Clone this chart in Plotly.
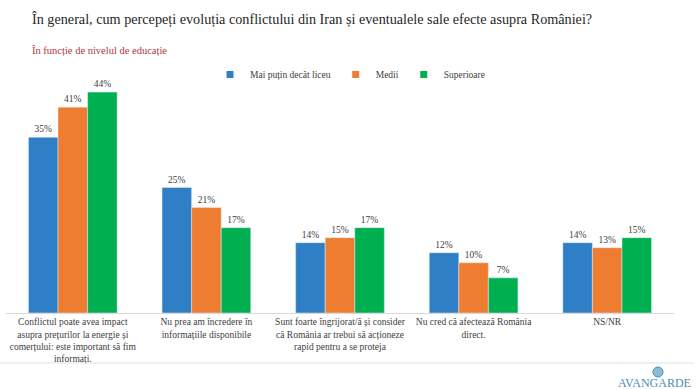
import plotly.graph_objects as go

categories = [
    "Conflictul poate avea impact<br>asupra prețurilor la energie și<br>comerțului: este important să fim<br>informați.",
    "Nu prea am încredere în<br>informațiile disponibile",
    "Sunt foarte îngrijorat/ă și consider<br>că România ar trebui să acționeze<br>rapid pentru a se proteja",
    "Nu cred că afectează România<br>direct.",
    "NS/NR",
]
series_names = ["Mai puțin decât liceu", "Medii", "Superioare"]
mai_putin = [35, 25, 14, 12, 14]
medii = [41, 21, 15, 10, 13]
superioare = [44, 17, 17, 7, 15]
colors = ["#2E7FC6", "#EE7D31", "#00B050"]

W, H = 700, 389
L, R, T, B = 6, 26, 60, 76
pw, ph = W - L - R, H - T - B
ymax = ph / 5.02  # about 5 px per percentage point

def px_x(x):
    return (x - L) / pw

def px_y(y):
    return (H - B - y) / ph

serif = "Liberation Serif, Times New Roman, serif"

fig = go.Figure()
for name, vals, c in zip(series_names, [mai_putin, medii, superioare], colors):
    fig.add_trace(go.Bar(
        x=categories, y=vals, name=name, marker_color=c, showlegend=False,
        text=[f"{v}%" for v in vals], textposition="outside",
        textfont=dict(family=serif, size=9.5, color="#404040"),
        cliponaxis=False, hoverinfo="skip",
    ))
for name, c in zip(series_names, colors):
    fig.add_trace(go.Scatter(
        x=[None], y=[None], mode="markers", name=name,
        marker=dict(symbol="square", size=7, color=c),
    ))

fig.update_layout(
    width=W, height=H,
    margin=dict(l=L, r=R, t=T, b=B, autoexpand=False),
    paper_bgcolor="white", plot_bgcolor="white",
    barmode="group", bargap=0.336, bargroupgap=0,
    showlegend=True,
    legend=dict(
        orientation="h", xref="paper", yref="paper",
        x=px_x(210), y=px_y(60), xanchor="left", yanchor="top",
        font=dict(family=serif, size=9.5, color="#404040"),
        itemwidth=30, bgcolor="rgba(0,0,0,0)",
    ),
    xaxis=dict(
        showline=True, linecolor="#d9d9d9", linewidth=1, automargin=False,
        tickfont=dict(family=serif, size=9.5, color="#404040"),
        ticks="", showgrid=False,
    ),
    yaxis=dict(range=[0, ymax], visible=False, showgrid=False, automargin=False),
    annotations=[
        dict(text="În general, cum percepeți evoluția conflictului din Iran și eventualele sale efecte asupra României?",
             xref="paper", yref="paper", x=px_x(30), y=px_y(19), xanchor="left", yanchor="middle",
             showarrow=False, font=dict(family=serif, size=14.2, color="#262626")),
        dict(text="În funcție de nivelul de educație",
             xref="paper", yref="paper", x=px_x(30), y=px_y(50), xanchor="left", yanchor="middle",
             showarrow=False, font=dict(family=serif, size=10.5, color="#B0353A")),
        dict(text="AVANGARDE",
             xref="paper", yref="paper", x=px_x(693), y=px_y(383), xanchor="right", yanchor="middle",
             showarrow=False, font=dict(family=serif, size=12, color="#4A8DB5")),
    ],
    shapes=[
        dict(type="line", xref="paper", yref="paper", x0=px_x(0), x1=px_x(694),
             y0=px_y(363), y1=px_y(363), line=dict(color="#e3e3e3", width=1)),
        dict(type="circle", xref="paper", yref="paper", x0=px_x(653), x1=px_x(663),
             y0=px_y(367), y1=px_y(377), fillcolor="#8DBBD6", line=dict(color="#4A8DB5", width=1)),
    ],
)

fig.write_html("out.html", config={"displayModeBar": False},
               post_script="document.body.style.margin='0';document.body.style.overflow='hidden';")
